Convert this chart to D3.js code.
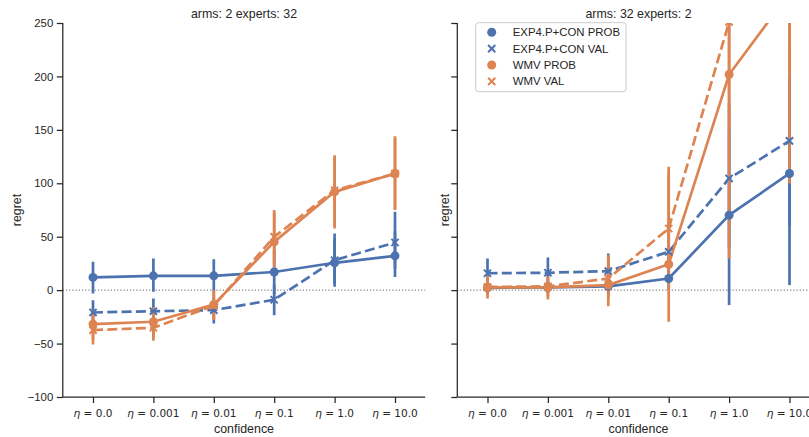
<!DOCTYPE html>
<html>
<head>
<meta charset="utf-8">
<script src="https://cdn.jsdelivr.net/npm/d3@7"></script>
<style>
  html, body { margin: 0; padding: 0; background: #ffffff; }
  svg { display: block; }
  text { font-family: "Liberation Sans", Arial, sans-serif; fill: #262626; }
  .eta { font-family: "DejaVu Sans", sans-serif; }
</style>
</head>
<body>
<svg id="chart" width="809" height="437"></svg>
<script>
// ---- data ----------------------------------------------------------------
const etaLabels = ["0.0", "0.001", "0.01", "0.1", "1.0", "10.0"];
const seriesNames = ["EXP4.P+CON PROB", "EXP4.P+CON VAL", "WMV PROB", "WMV VAL"];
const panelTitles = ["arms: 2 experts: 32", "arms: 32 experts: 2"];
const yTicks = [-100, -50, 0, 50, 100, 150, 200, 250];

// arms: 2, experts: 32
const a2ExpProb   = [11.9, 13.4, 13.4, 17.0, 25.6, 32.1];
const a2ExpProbLo = [-3.1, -1.6, -2.0, -4.0, 3.1, 12.4];
const a2ExpProbHi = [26.5, 29.6, 29.0, 37.0, 48.0, 55.0];
const a2ExpVal    = [-20.9, -19.7, -18.7, -9.0, 28.0, 44.6];
const a2ExpValLo  = [-32.0, -31.0, -31.2, -23.4, 6.0, 20.0];
const a2ExpValHi  = [-9.4, -7.8, -7.0, 5.0, 53.0, 73.3];
const a2WmvProb   = [-31.8, -29.6, -13.5, 45.2, 92.0, 109.2];
const a2WmvProbLo = [-47.0, -44.0, -27.0, 19.0, 60.0, 76.0];
const a2WmvProbHi = [-18.7, -16.0, 0.0, 74.9, 124.0, 144.0];
const a2WmvVal    = [-37.4, -35.2, -14.5, 49.9, 93.5, 109.0];
const a2WmvValLo  = [-50.8, -47.4, -28.0, 25.0, 57.7, 74.9];
const a2WmvValHi  = [-24.0, -22.0, -2.0, 72.0, 126.3, 142.0];

// arms: 32, experts: 2
const a32ExpProb   = [2.2, 2.5, 3.5, 10.9, 70.2, 109.2];
const a32ExpProbLo = [-3.0, -3.0, -4.0, 0.0, -14.0, 4.7];
const a32ExpProbHi = [7.0, 8.0, 10.0, 22.0, 150.0, 215.0];
const a32ExpVal    = [15.8, 16.3, 17.8, 35.9, 104.5, 139.7];
const a32ExpValLo  = [3.0, 3.0, 2.0, 10.0, 40.0, 60.0];
const a32ExpValHi  = [29.6, 30.6, 34.3, 62.0, 175.0, 230.0];
const a32WmvProb   = [2.5, 2.5, 4.7, 24.2, 201.8, 278.0];
const a32WmvProbLo = [-7.8, -8.7, -15.0, -29.6, 29.6, 99.8];
const a32WmvProbHi = [14.0, 13.0, 32.8, 115.4, 380.0, 460.0];
const a32WmvVal    = [3.0, 3.5, 10.9, 57.7, 251.0, 300.0];
const a32WmvValLo  = [-5.0, -6.0, -8.0, 5.0, 150.0, 200.0];
const a32WmvValHi  = [12.0, 12.0, 30.0, 110.0, 380.0, 420.0];

// ---- styles ---------------------------------------------------------------
const seriesColor  = ["#4C72B0", "#4C72B0", "#DD8452", "#DD8452"];
const seriesDashed = [false, true, false, true];
const seriesMarker = ["circle", "x", "circle", "x"];

const panels = [
  {
    title: panelTitles[0], left: 62.8, right: 425.2, showTickLabels: true, yLabelX: 16.5,
    series: [
      { v: a2ExpProb, lo: a2ExpProbLo, hi: a2ExpProbHi },
      { v: a2ExpVal,  lo: a2ExpValLo,  hi: a2ExpValHi },
      { v: a2WmvProb, lo: a2WmvProbLo, hi: a2WmvProbHi },
      { v: a2WmvVal,  lo: a2WmvValLo,  hi: a2WmvValHi }
    ]
  },
  {
    title: panelTitles[1], left: 457.3, right: 819.7, showTickLabels: false, yLabelX: 445,
    series: [
      { v: a32ExpProb, lo: a32ExpProbLo, hi: a32ExpProbHi },
      { v: a32ExpVal,  lo: a32ExpValLo,  hi: a32ExpValHi },
      { v: a32WmvProb, lo: a32WmvProbLo, hi: a32WmvProbHi },
      { v: a32WmvVal,  lo: a32WmvValLo,  hi: a32WmvValHi }
    ]
  }
];

const plotTop = 23, plotBottom = 397;
const svg = d3.select("#chart");
const y = d3.scaleLinear().domain([-100, 250]).range([plotBottom, plotTop]);

const lineW = 2.7, errW = 2.7, dotR = 4.5, xHalf = 3.6;

function drawMarker(g, shape, cx, cy, color) {
  if (shape === "circle") {
    g.append("circle").attr("cx", cx).attr("cy", cy).attr("r", dotR).attr("fill", color);
  } else {
    g.append("path")
      .attr("d", `M${cx - xHalf},${cy - xHalf}L${cx + xHalf},${cy + xHalf}M${cx - xHalf},${cy + xHalf}L${cx + xHalf},${cy - xHalf}`)
      .attr("stroke", color).attr("stroke-width", 2).attr("fill", "none");
  }
}

panels.forEach((p, pi) => {
  const x = d3.scalePoint().domain(etaLabels).range([p.left, p.right]).padding(0.5);
  const clipId = "clip" + pi;
  svg.append("clipPath").attr("id", clipId)
    .append("rect").attr("x", p.left).attr("y", plotTop)
    .attr("width", p.right - p.left).attr("height", plotBottom - plotTop);

  const g = svg.append("g");

  // reference line at zero regret
  g.append("line")
    .attr("x1", p.left).attr("x2", p.right)
    .attr("y1", y(0)).attr("y2", y(0))
    .attr("stroke", "#808080").attr("stroke-width", 1.2)
    .attr("stroke-dasharray", "1.2,2");

  const plot = g.append("g").attr("clip-path", `url(#${clipId})`);
  const line = d3.line().x((d, i) => x(etaLabels[i])).y(d => y(d));

  // lines and confidence intervals
  p.series.forEach((s, si) => {
    plot.append("path")
      .attr("d", line(s.v))
      .attr("fill", "none")
      .attr("stroke", seriesColor[si])
      .attr("stroke-width", lineW)
      .attr("stroke-dasharray", seriesDashed[si] ? "10,4.3" : null);
    plot.selectAll(null).data(etaLabels).enter().append("line")
      .attr("x1", d => x(d)).attr("x2", d => x(d))
      .attr("y1", (d, i) => y(s.lo[i])).attr("y2", (d, i) => y(s.hi[i]))
      .attr("stroke", seriesColor[si]).attr("stroke-width", errW);
  });

  // point estimates
  p.series.forEach((s, si) => {
    s.v.forEach((v, i) => drawMarker(plot, seriesMarker[si], x(etaLabels[i]), y(v), seriesColor[si]));
  });

  // y axis
  const yAxis = d3.axisLeft(y).tickValues(yTicks).tickSize(6).tickPadding(3.5)
    .tickFormat(p.showTickLabels ? (d => d3.format("d")(d).replace("-", "\u2212")) : () => "");
  const ya = g.append("g").attr("transform", `translate(${p.left},0)`).call(yAxis);
  ya.select(".domain").attr("d", `M0,${plotTop}V${plotBottom}`);

  // x axis
  const xAxis = d3.axisBottom(x).tickSize(6).tickPadding(4).tickFormat(() => "");
  const xa = g.append("g").attr("transform", `translate(0,${plotBottom})`).call(xAxis);
  xa.select(".domain").attr("d", `M${p.left},0H${p.right}`);

  [ya, xa].forEach(a => {
    a.select(".domain").attr("stroke", "#262626").attr("stroke-width", 1.25);
    a.selectAll(".tick line").attr("stroke", "#262626").attr("stroke-width", 1.25);
    a.selectAll(".tick text").attr("font-family", "Liberation Sans, Arial, sans-serif")
      .attr("font-size", 11.4).attr("fill", "#262626");
  });

  // eta tick labels
  etaLabels.forEach(lab => {
    const t = g.append("text").attr("class", "eta")
      .attr("x", x(lab)).attr("y", 416.5)
      .attr("text-anchor", "middle").attr("font-size", 10.5);
    t.append("tspan").attr("font-style", "italic").text("\u03B7");
    t.append("tspan").text(" = " + lab);
  });

  // titles and labels
  g.append("text").attr("x", (p.left + p.right) / 2).attr("y", 17.5)
    .attr("text-anchor", "middle").attr("font-size", 12.4).text(p.title);
  g.append("text").attr("x", (p.left + p.right) / 2).attr("y", 432.5)
    .attr("text-anchor", "middle").attr("font-size", 12.4).text("confidence");
  g.append("text")
    .attr("transform", `translate(${p.yLabelX + 4.3},${(plotTop + plotBottom) / 2}) rotate(-90)`)
    .attr("text-anchor", "middle").attr("font-size", 12.4).text("regret");
});

// legend
const leg = svg.append("g");
leg.append("rect").attr("x", 475.7).attr("y", 22.7).attr("width", 150.3).attr("height", 69)
  .attr("rx", 3).attr("fill", "#ffffff").attr("fill-opacity", 0.8)
  .attr("stroke", "#cccccc").attr("stroke-width", 1);
seriesNames.forEach((name, i) => {
  const cy = 32.3 + i * 16.35;
  drawMarker(leg, seriesMarker[i], 491.7, cy, seriesColor[i]);
  leg.append("text").attr("x", 512.7).attr("y", cy + 4).attr("font-size", 11.4).text(name);
});
</script>
</body>
</html>
